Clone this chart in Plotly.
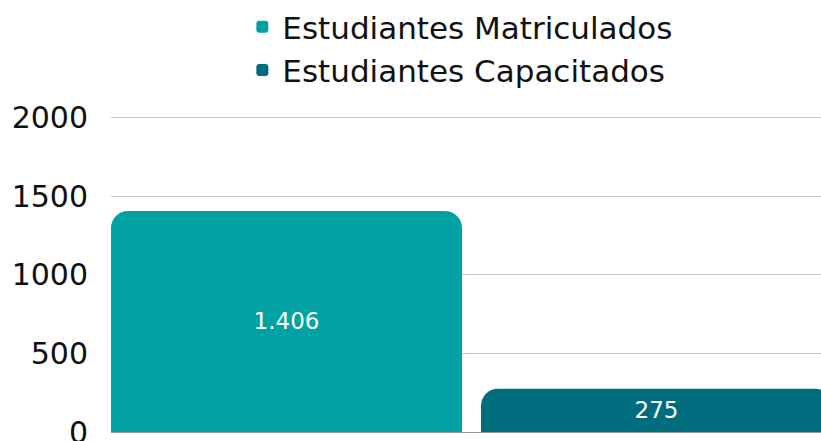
import plotly.graph_objects as go

series_names = ["Estudiantes Matriculados", "Estudiantes Capacitados"]
series_values = [1406, 275]
series_colors = ["#00A2A4", "#006D7F"]
y_ticks = [0, 500, 1000, 1500, 2000]

FONT = "DejaVu Sans"

fig = go.Figure()
for i, (name, val, col) in enumerate(zip(series_names, series_values, series_colors)):
    fig.add_trace(go.Bar(
        x=[i], y=[val], name=name,
        marker=dict(color=col, line=dict(width=0)),
        width=0.9486,
        texttemplate="%{y:,}",
        textposition="inside",
        insidetextanchor="middle",
        textangle=0,
        textfont=dict(color="white", size=23, family=FONT),
        hoverinfo="skip",
    ))

fig.update_layout(
    width=821, height=441,
    margin=dict(l=111, r=0, t=116, b=9, autoexpand=False),
    paper_bgcolor="white", plot_bgcolor="white",
    separators=",.",
    barcornerradius=17,
    font=dict(family=FONT, color="#111111"),
    showlegend=True,
    legend=dict(
        orientation="v", x=0.185, xanchor="left", y=1.367, yanchor="top",
        font=dict(size=31, family=FONT, color="#111111"),
        bgcolor="rgba(0,0,0,0)",
    ),
    xaxis=dict(range=[-0.4743, 1.4446], showticklabels=False, showgrid=False,
               zeroline=False, showline=False, fixedrange=True, automargin=False),
    yaxis=dict(range=[0, 2010], tickvals=y_ticks, tickformat="d",
               showgrid=True, gridcolor="#C8C8C8", gridwidth=1,
               zeroline=True, zerolinecolor="#999999", zerolinewidth=1,
               tickfont=dict(size=30, family=FONT, color="#111111"),
               ticklabelstandoff=22, ticklabeloverflow="allow",
               fixedrange=True, automargin=False),
)

fig.write_html("out.html",
               config={"displayModeBar": False},
               post_script="document.body.style.margin='0';document.body.style.overflow='hidden';")
